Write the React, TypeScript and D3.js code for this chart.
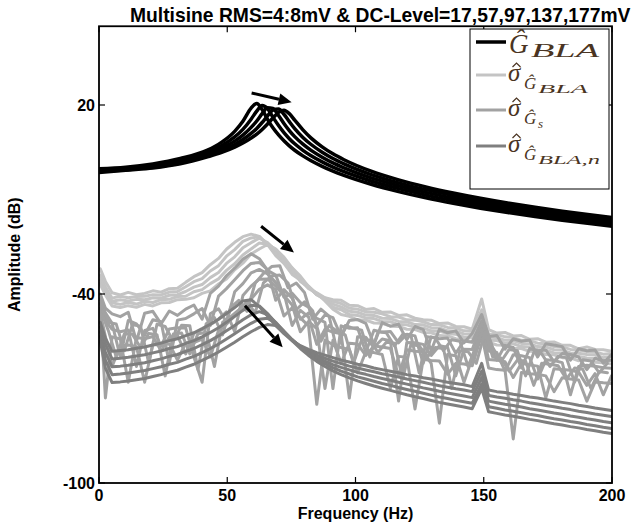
import React from 'react';
import * as d3 from 'd3';

// ---------- data ----------
const TITLE = 'Multisine RMS=4:8mV & DC-Level=17,57,97,137,177mV';
const X_LABEL = 'Frequency (Hz)';
const Y_LABEL = 'Amplitude (dB)';
const X_TICKS = [0, 50, 100, 150, 200];
const Y_TICKS = [-100, -40, 20];

const FREQ_BLACK = [0, 10.4, 21.0, 31.7, 42.3, 47.6, 52.9, 56.1, 59.3, 61.5, 63.6, 65.7, 67.8, 70.0, 72.1, 74.2, 76.3, 79.5, 82.7, 87.0, 91.2, 95.5, 106.1, 116.8, 127.4, 138.1, 148.7, 159.3, 170.0, 180.6, 191.3, 201.9];
const G_BLA_1 = [-0.25, 0.25, 1.3, 3.0, 5.68, 8.06, 11.63, 14.83, 19.0, 20.51, 18.57, 15.46, 12.74, 10.49, 8.63, 7.03, 5.64, 3.85, 2.31, 0.53, -1.0, -2.36, -5.17, -7.5, -9.48, -11.21, -12.75, -14.13, -15.4, -16.57, -17.66, -18.67];
const G_BLA_2 = [-0.55, -0.05, 0.9, 2.5, 5.0, 7.01, 9.87, 12.27, 15.5, 18.07, 19.87, 18.87, 16.15, 13.47, 11.21, 9.31, 7.68, 5.62, 3.89, 1.94, 0.28, -1.17, -4.13, -6.56, -8.6, -10.38, -11.95, -13.36, -14.65, -15.84, -16.94, -17.96];
const G_BLA_3 = [-0.84, -0.32, 0.6, 2.08, 4.43, 6.16, 8.53, 10.43, 12.89, 14.93, 17.24, 19.13, 18.9, 16.69, 14.15, 11.88, 9.96, 7.57, 5.6, 3.43, 1.61, 0.05, -3.14, -5.62, -7.73, -9.56, -11.16, -12.6, -13.92, -15.12, -16.23, -17.27];
const G_BLA_4 = [-1.15, -0.55, 0.25, 1.6, 3.95, 5.46, 7.47, 9.03, 10.97, 12.56, 14.44, 16.53, 18.38, 18.7, 17.06, 14.73, 12.51, 9.72, 7.46, 5.01, 3.01, 1.31, -2.08, -4.72, -6.87, -8.74, -10.39, -11.86, -13.19, -14.41, -15.54, -16.59];
const G_BLA_5 = [-1.45, -0.7, 0.0, 1.3, 3.54, 4.87, 6.6, 7.91, 9.51, 10.77, 12.25, 13.97, 15.88, 17.66, 18.33, 17.25, 15.2, 12.1, 9.49, 6.72, 4.49, 2.63, -1.01, -3.78, -6.0, -7.93, -9.62, -11.12, -12.48, -13.72, -14.86, -15.92];

const FREQ_GREY = [0.5, 2.5, 5.1, 8.3, 11.4, 14.6, 17.8, 21.0, 24.2, 27.4, 30.6, 33.8, 37.0, 40.2, 43.4, 46.6, 49.7, 52.9, 56.1, 59.3, 62.5, 65.7, 68.9, 72.1, 75.3, 78.5, 81.7, 84.9, 88.1, 91.2, 94.4, 97.6, 100.8, 104.0, 107.2, 110.4, 113.6, 116.8, 120.0, 123.2, 126.4, 129.5, 132.7, 135.9, 139.1, 142.3, 145.5, 149.2, 151.9, 155.1, 158.3, 161.5, 164.7, 167.9, 171.0, 174.2, 177.4, 180.6, 183.8, 187.0, 190.2, 193.4, 196.6, 199.8];
const FREQ_GREY_B = [1.5, 3.8, 6.7, 9.9, 13.0, 16.2, 19.4, 22.6, 25.8, 29.0, 32.2, 35.4, 38.6, 41.8, 45.0, 48.2, 51.3, 54.5, 57.7, 60.9, 64.1, 67.3, 70.5, 73.7, 76.9, 80.1, 83.3, 86.5, 89.7, 92.8, 96.0, 99.2, 102.4, 105.6, 108.8, 112.0, 115.2, 118.4, 121.6, 124.8, 128.0, 131.1, 134.3, 137.5, 140.7, 143.9, 147.1, 150.5, 153.5, 156.7, 159.9, 163.1, 166.3, 169.5, 172.6, 175.8, 179.0, 182.2, 185.4, 188.6, 191.8, 195.0, 198.2];

// sigma of G_BLA (light grey)
const SIG_BLA_1 = [-32, -36, -39.6, -40.3, -39.5, -40.2, -39.8, -39, -39.4, -38.3, -38.2, -36.3, -34.5, -33.2, -30.7, -28.7, -25.8, -23.6, -21.8, -21, -21.7, -24.3, -27.8, -30.3, -33.8, -35.6, -38.3, -39.6, -41.2, -41.8, -42, -43.6, -43.7, -44.9, -44.6, -45.8, -45.7, -46.8, -46.6, -47.7, -48.2, -48.3, -49.4, -49.2, -50.3, -50.4, -51.2, -41.6, -51.3, -52.4, -52.2, -53.3, -53.2, -54.4, -54.2, -55.3, -55.2, -56.3, -56.3, -57.4, -56.8, -57.6, -57.7, -58.2];
const SIG_BLA_2 = [-34, -37.8, -41.3, -40.7, -41.2, -40.8, -40.7, -40.2, -40.3, -39.4, -39.2, -37.7, -36.1, -35.1, -32.7, -31, -28, -25.9, -23.3, -22.2, -21.8, -24.2, -26.8, -30.2, -32.8, -36, -37.8, -40.2, -41.2, -42.3, -43, -44.5, -44.8, -45.7, -45.8, -46.3, -47.2, -47.3, -48.2, -48.3, -48.8, -49.7, -49.8, -50.6, -50.8, -51.7, -51.8, -45, -52.7, -52.8, -53.6, -53.8, -54.7, -54.8, -55.6, -55.8, -56.7, -56.8, -57.6, -57.8, -58.3, -58.4, -59.1, -58.9];
const SIG_BLA_3 = [-35.5, -38.8, -42.3, -41.8, -42.2, -41.7, -41.8, -41.2, -41.3, -40.4, -40.2, -39.2, -37.8, -37, -34.8, -33.2, -30.3, -28.2, -25.3, -23.7, -22.3, -23.7, -26.3, -29.7, -32.3, -35.7, -37.8, -40.2, -41.6, -43.2, -44.1, -45.5, -45.8, -46.7, -46.8, -47.7, -47.8, -48.7, -48.8, -49.7, -49.8, -50.7, -50.8, -51.7, -51.8, -52.7, -52.8, -46.5, -53.7, -53.8, -54.7, -54.8, -55.7, -55.8, -56.7, -56.8, -57.7, -57.8, -58.7, -58.8, -59.2, -59.3, -60.2, -59.8];
const SIG_BLA_4 = [-36.5, -39.7, -42.8, -43.3, -42.7, -43.2, -42.3, -42.7, -41.8, -41.7, -40.8, -40.7, -39.3, -38.6, -36.7, -35.2, -32.5, -30.4, -27.6, -25.7, -23.8, -24.2, -25.8, -29.2, -31.8, -35.2, -37.5, -40.2, -41.7, -44.2, -45, -46.5, -46.8, -47.6, -47.8, -48.7, -48.8, -49.7, -49.8, -50.6, -50.8, -51.7, -51.8, -52.6, -52.8, -53.7, -53.8, -47.5, -54.7, -54.8, -55.6, -55.8, -56.7, -56.8, -57.6, -57.8, -58.7, -58.8, -59.6, -59.8, -60.3, -60.4, -61.2, -60.9];
const SIG_BLA_5 = [-37, -40.3, -43.8, -44.3, -43.7, -44.2, -43.3, -43.8, -42.8, -42.7, -41.8, -41.7, -41.2, -39.8, -39, -36.8, -35.2, -32.3, -30.2, -27.3, -25.7, -24.3, -25.7, -28.3, -31.7, -34.3, -37.7, -39.8, -42.2, -44.8, -46.5, -47.1, -48.2, -48.3, -49.2, -49.3, -50.2, -50.3, -51.2, -51.3, -52.2, -52.3, -53.2, -53.3, -54.2, -54.3, -55.2, -48.5, -55.3, -56.2, -56.3, -57.2, -57.3, -58.2, -58.3, -59.2, -59.3, -60.2, -60.3, -61.2, -60.8, -61.7, -61.8, -62.2];

// sigma of G_s (medium grey)
const SIG_GS_1 = [-40, -44.5, -46.3, -47.2, -45.8, -55, -46.1, -45.5, -49.5, -45.4, -46.8, -44.8, -43.5, -48, -39.8, -37.5, -34.2, -31.8, -29, -27.2, -28.8, -32.5, -34, -41, -39.8, -42.7, -44.2, -50, -46.6, -47.5, -53.5, -48.4, -48.1, -49.3, -56, -49.1, -50.2, -49.6, -54.5, -50.3, -51.3, -58, -51.2, -52.3, -51.7, -55.5, -52.5, -46.5, -53.5, -53.2, -57.5, -54.2, -55, -54.6, -60, -55.8, -56.2, -56.7, -61, -57.4, -58, -57.8, -62, -59.2];
const SIG_GS_2 = [-41.5, -46, -49.3, -60, -48.4, -49.5, -53, -48.2, -48.8, -62, -48.3, -47.8, -46.3, -44.6, -50, -40.7, -38.3, -35.5, -32.6, -30.3, -30, -32.3, -42, -38.6, -41.3, -48, -46, -47.7, -49, -70, -50.1, -50.9, -50.7, -58.5, -51.5, -52.1, -51.9, -55.5, -52.8, -53.3, -62, -53.6, -54.2, -54, -58.8, -54.9, -55.3, -48.5, -55.9, -61, -56.3, -57, -63.5, -57.3, -58, -57.8, -61.5, -58.9, -59.2, -60, -64, -60.4, -61.2, -61];
const SIG_GS_3 = [-43, -48.5, -51.2, -52, -51.4, -63, -51.6, -50.9, -56.5, -51.1, -50.7, -50.8, -60, -68, -46.3, -44.7, -49, -39.3, -36.7, -33.3, -32.2, -33.6, -36.3, -39.7, -50, -45.2, -47.3, -56, -51.2, -52.1, -52.6, -73, -53.6, -53.7, -57, -54.3, -54.8, -74, -55.4, -55.5, -56, -59.5, -56.4, -56.9, -66, -57.5, -57.6, -49.5, -58.1, -58.6, -64.5, -59.3, -59.6, -60.2, -67, -60.9, -61.1, -61.8, -72, -63, -62.6, -62.9, -63.4, -63.6];
const SIG_GS_4 = [-44.5, -73, -53.6, -54.3, -68, -53.8, -54.2, -53.5, -58, -53.7, -53.2, -59, -52.5, -51.3, -49.8, -48, -45.7, -52, -40.5, -37.5, -35.3, -35.2, -37.5, -40.5, -43.5, -52, -48.7, -51, -70, -54.7, -62, -55.6, -55.9, -59.5, -56.5, -56.8, -57.3, -66, -57.7, -58.2, -58.3, -62, -81, -59.2, -59.6, -68, -60.3, -51, -60.8, -61, -61.5, -66.5, -62, -62.5, -62.9, -73, -63.7, -64, -64.2, -64.8, -69, -65.3, -72, -66];
const SIG_GS_5 = [-46, -53.5, -63, -56.5, -56.2, -56.7, -68, -56, -56.3, -55.8, -61, -55.5, -55.4, -54.3, -60, -51.5, -49.6, -47, -44.5, -41.6, -38.5, -37.1, -38.6, -47, -44.4, -47.6, -50.1, -75, -54.6, -56.1, -57, -57.7, -65, -58.4, -58.6, -59.2, -70, -59.8, -60.1, -76.5, -60.7, -61.1, -61.3, -65.5, -62, -62.2, -62.8, -53, -63.5, -64, -64.2, -86, -64.9, -65.3, -65.5, -66, -71, -66.6, -67, -67.3, -74, -67.9, -68.2, -68.4];
const SIG_GS_6 = [-45.5, -49, -49.5, -58, -49.8, -50.2, -62, -49.6, -50.3, -55, -49.9, -50.1, -64, -49.4, -47.5, -53, -44.3, -42, -45.5, -36.5, -33.5, -31.3, -31, -38, -36.5, -39.5, -48, -44.8, -47, -58, -50, -50.9, -51.5, -60, -52, -52.3, -56.5, -52.8, -53.1, -65, -53.6, -54, -58, -54.5, -55, -63, -56.3, -50, -57, -61.5, -57.6, -58, -66, -58.6, -59, -63, -59.8, -60.2, -68, -60.9, -61.3, -65, -62];
const SIG_GS_7 = [-47, -52, -60, -52.6, -52.8, -57, -52.5, -52.9, -66, -52.7, -52.4, -59, -52.6, -52.2, -63, -49, -47.3, -45, -42.5, -46, -36.5, -34.3, -34, -36.5, -45, -42.5, -45.3, -55, -50, -51.8, -53, -62, -54.5, -54.8, -58.5, -55.3, -55.6, -67, -56.1, -56.4, -60, -57, -57.3, -70, -58, -58.3, -62, -52, -60, -60.3, -64.5, -61, -61.3, -69, -62, -62.3, -62.8, -67, -63.5, -63.9, -70, -64.6, -65];

// sigma of G_BLA,n (dark grey)
const SIG_BLAN_1 = [-49, -54, -58.2, -57.9, -57.7, -57.2, -56.8, -56.2, -55.6, -54.8, -54.2, -53.2, -52.3, -51, -49.6, -48, -46.2, -44.3, -42.2, -41.8, -44, -47, -50, -52.6, -54.8, -56.4, -57.6, -58.6, -59.4, -60.2, -61, -61.6, -62.3, -62.8, -63.5, -64, -64.5, -65, -65.6, -66, -66.6, -67, -67.5, -68, -68.4, -68.8, -69.4, -62, -70.5, -71, -71.3, -71.8, -72.2, -72.7, -73, -73.5, -74, -74.4, -74.8, -75.3, -75.7, -76.2, -76.6, -77];
const SIG_BLAN_2 = [-50.5, -56, -60.6, -60.4, -60.1, -59.7, -59.3, -58.7, -58.1, -57.3, -56.7, -55.7, -54.8, -53.6, -52.2, -50.7, -49, -47.1, -45.2, -43.6, -43.8, -46.2, -49.2, -52, -54.6, -56.6, -58.2, -59.4, -60.4, -61.3, -62.1, -62.9, -63.5, -64.1, -64.7, -65.3, -65.8, -66.4, -67, -67.5, -68, -68.6, -69.1, -69.6, -70.1, -70.5, -71, -64.5, -72.2, -72.7, -73.1, -73.6, -74, -74.5, -74.9, -75.4, -75.8, -76.3, -76.7, -77.2, -77.6, -78.1, -78.5, -78.9];
const SIG_BLAN_3 = [-52, -58.5, -63.1, -62.9, -62.6, -62.2, -61.8, -61.2, -60.6, -59.8, -59.2, -58.2, -57.3, -56.1, -54.8, -53.3, -51.7, -50, -48.2, -46.6, -45.6, -46.5, -49, -51.8, -54.5, -56.8, -58.6, -60.1, -61.3, -62.4, -63.3, -64.1, -64.9, -65.5, -66.2, -66.8, -67.4, -68, -68.6, -69.2, -69.8, -70.3, -70.9, -71.4, -71.9, -72.4, -72.9, -66.5, -74, -74.5, -75, -75.4, -75.9, -76.4, -76.8, -77.3, -77.8, -78.2, -78.7, -79.1, -79.6, -80, -80.5, -80.9];
const SIG_BLAN_4 = [-53.5, -61, -65.6, -65.4, -65.1, -64.7, -64.3, -63.7, -63.1, -62.3, -61.7, -60.7, -59.8, -58.6, -57.3, -55.9, -54.3, -52.6, -50.9, -49.3, -48, -47.7, -49.3, -51.8, -54.5, -57, -59, -60.7, -62.1, -63.4, -64.5, -65.4, -66.3, -67, -67.7, -68.4, -69, -69.7, -70.3, -70.9, -71.5, -72.1, -72.7, -73.2, -73.7, -74.2, -74.7, -68.5, -75.8, -76.3, -76.8, -77.2, -77.7, -78.2, -78.6, -79.1, -79.6, -80, -80.5, -80.9, -81.4, -81.8, -82.3, -82.7];
const SIG_BLAN_5 = [-55, -63.5, -68.1, -67.9, -67.6, -67.2, -66.8, -66.2, -65.6, -64.8, -64.2, -63.2, -62.3, -61.1, -59.8, -58.4, -56.9, -55.3, -53.6, -52, -50.6, -49.7, -50, -52.2, -54.8, -57.3, -59.5, -61.4, -63, -64.4, -65.6, -66.6, -67.6, -68.4, -69.2, -69.9, -70.6, -71.3, -72, -72.6, -73.2, -73.8, -74.4, -74.9, -75.4, -75.9, -76.4, -70, -77.4, -77.9, -78.4, -78.8, -79.3, -79.8, -80.2, -80.7, -81.2, -81.6, -82.1, -82.5, -83, -83.4, -83.9, -84.3];

// arrows: [f0, dB0, f1, dB1]
const ARROW_BLA = [59.5, 23.8, 75.1, 20.9];
const ARROW_SIG = [63.2, -18.5, 76.0, -26.8];
const ARROW_SIGN = [56.9, -43.7, 71.6, -56.9];

const C_BLACK = '#000000';
const C_LIGHT = '#c4c4c4';
const C_MED = '#a2a2a2';
const C_DARK = '#7f7f7f';
const TXT_BROWN = '#4a3422';

export default function App() {
  const W = 635, H = 525;
  const L = 99, R = 612, B = 483;
  const x = d3.scaleLinear().domain([0, 200]).range([L, R]);
  const y = d3.scaleLinear().domain([-100, 20]).range([B, 105]);
  const T = y(45);

  const path = (fs: number[], vs: number[], curve: any) => {
    const n = Math.min(fs.length, vs.length);
    const pts: [number, number][] = [];
    for (let i = 0; i < n; i++) pts.push([fs[i], vs[i]]);
    return d3.line<[number, number]>().x(d => x(d[0])).y(d => y(d[1])).curve(curve)(pts) || '';
  };

  const light = [SIG_BLA_1, SIG_BLA_2, SIG_BLA_3, SIG_BLA_4, SIG_BLA_5];
  const med = [SIG_GS_1, SIG_GS_2, SIG_GS_3, SIG_GS_4, SIG_GS_5];
  const medB = [SIG_GS_6, SIG_GS_7];
  const dark = [SIG_BLAN_1, SIG_BLAN_2, SIG_BLAN_3, SIG_BLAN_4, SIG_BLAN_5];
  const black = [G_BLA_1, G_BLA_2, G_BLA_3, G_BLA_4, G_BLA_5];

  const arrow = (a: number[], key: string) => {
    const x0 = x(a[0]), y0 = y(a[1]), x1 = x(a[2]), y1 = y(a[3]);
    const ang = Math.atan2(y1 - y0, x1 - x0);
    const hl = 13, hw = 6;
    const bx = x1 - hl * Math.cos(ang), by = y1 - hl * Math.sin(ang);
    const px = -Math.sin(ang) * hw, py = Math.cos(ang) * hw;
    return (
      <g key={key}>
        <line x1={x0} y1={y0} x2={bx} y2={by} stroke="#000" strokeWidth={3} />
        <polygon points={`${x1},${y1} ${bx + px},${by + py} ${bx - px},${by - py}`} fill="#000" />
      </g>
    );
  };

  const tickFont = { fontFamily: '"Liberation Sans", Arial, sans-serif', fontWeight: 700, fontSize: 16 } as any;
  const mathFont = { fontFamily: '"Liberation Serif", "Times New Roman", serif', fontStyle: 'italic', fill: TXT_BROWN } as any;

  const lgX = 470, lgY = 29, lgW = 139, lgH = 160;
  const entryY = [42, 75, 110, 146];
  // sigma with a drawn hat
  const sig = (yb: number, key: string) => (
    <g key={key}>
      <text x={508} y={yb} style={{ ...mathFont, fontSize: 25 }}>σ</text>
      <polyline points={`${512.5},${yb - 14} ${516.5},${yb - 18} ${520.5},${yb - 14}`} fill="none" stroke={TXT_BROWN} strokeWidth={1.2} />
    </g>
  );

  return (
    <svg width={W} height={H} style={{ position: 'absolute', left: 0, top: 0, background: '#fff' }}>
      <defs>
        <clipPath id="plotclip">
          <rect x={L} y={T} width={R - L} height={B - T} />
        </clipPath>
      </defs>
      <rect x={0} y={0} width={W} height={H} fill="#fff" />

      <g clipPath="url(#plotclip)" fill="none" strokeLinejoin="round" strokeLinecap="round">
        {black.map((v, i) => (
          <path key={'b' + i} d={path(FREQ_BLACK, v, d3.curveMonotoneX)} stroke={C_BLACK} strokeWidth={3.5} />
        ))}
        {light.map((v, i) => (
          <path key={'l' + i} d={path(FREQ_GREY, v, d3.curveLinear)} stroke={C_LIGHT} strokeWidth={3} />
        ))}
        {med.map((v, i) => (
          <path key={'m' + i} d={path(FREQ_GREY, v, d3.curveLinear)} stroke={C_MED} strokeWidth={3} />
        ))}
        {medB.map((v, i) => (
          <path key={'mb' + i} d={path(FREQ_GREY_B, v, d3.curveLinear)} stroke={C_MED} strokeWidth={3} />
        ))}
        {dark.map((v, i) => (
          <path key={'d' + i} d={path(FREQ_GREY, v, d3.curveLinear)} stroke={C_DARK} strokeWidth={3} />
        ))}
      </g>

      {arrow(ARROW_BLA, 'a1')}
      {arrow(ARROW_SIG, 'a2')}
      {arrow(ARROW_SIGN, 'a3')}

      {/* axes box */}
      <rect x={L} y={T} width={R - L} height={B - T} fill="none" stroke="#000" strokeWidth={1.8} />
      {X_TICKS.map(t => (
        <g key={'xt' + t}>
          <line x1={x(t)} x2={x(t)} y1={B} y2={B - 6} stroke="#000" strokeWidth={1.2} />
          <line x1={x(t)} x2={x(t)} y1={T} y2={T + 6} stroke="#000" strokeWidth={1.2} />
          <text x={x(t)} y={501} textAnchor="middle" style={tickFont}>{t}</text>
        </g>
      ))}
      {Y_TICKS.map(t => (
        <g key={'yt' + t}>
          <line x1={L} x2={L + 6} y1={y(t)} y2={y(t)} stroke="#000" strokeWidth={1.2} />
          <line x1={R} x2={R - 6} y1={y(t)} y2={y(t)} stroke="#000" strokeWidth={1.2} />
          <text x={L - 4} y={y(t) + 6} textAnchor="end" style={tickFont}>{t}</text>
        </g>
      ))}

      <text x={(L + R) / 2} y={519} textAnchor="middle" style={tickFont}>{X_LABEL}</text>
      <text transform={`translate(20,${(T + B) / 2}) rotate(-90)`} textAnchor="middle" style={tickFont}>{Y_LABEL}</text>
      <text x={130} y={22} style={{ ...tickFont, fontSize: 19.3 }}>{TITLE}</text>

      {/* legend */}
      <rect x={lgX} y={lgY} width={lgW} height={lgH} fill="#fff" stroke="#000" strokeWidth={1} />
      <line x1={476} x2={506} y1={entryY[0]} y2={entryY[0]} stroke={C_BLACK} strokeWidth={3.5} />
      <line x1={476} x2={506} y1={entryY[1]} y2={entryY[1]} stroke={C_LIGHT} strokeWidth={3} />
      <line x1={476} x2={506} y1={entryY[2]} y2={entryY[2]} stroke={C_MED} strokeWidth={3} />
      <line x1={476} x2={506} y1={entryY[3]} y2={entryY[3]} stroke={C_DARK} strokeWidth={3} />

      <text x={509} y={53} style={{ ...mathFont, fontSize: 27 }}>Ĝ</text>
      <text x={531} y={57} style={{ ...mathFont, fontSize: 19 }} textLength={68} lengthAdjust="spacingAndGlyphs">BLA</text>

      {sig(81, 's1')}
      <text x={524} y={89} style={{ ...mathFont, fontSize: 17 }}>Ĝ</text>
      <text x={538} y={93} style={{ ...mathFont, fontSize: 13 }} textLength={50} lengthAdjust="spacingAndGlyphs">BLA</text>

      {sig(116, 's2')}
      <text x={524} y={124} style={{ ...mathFont, fontSize: 17 }}>Ĝ</text>
      <text x={538} y={128} style={{ ...mathFont, fontSize: 13 }}>s</text>

      {sig(152, 's3')}
      <text x={524} y={160} style={{ ...mathFont, fontSize: 17 }}>Ĝ</text>
      <text x={538} y={164} style={{ ...mathFont, fontSize: 13 }} textLength={62} lengthAdjust="spacingAndGlyphs">BLA,n</text>
    </svg>
  );
}
